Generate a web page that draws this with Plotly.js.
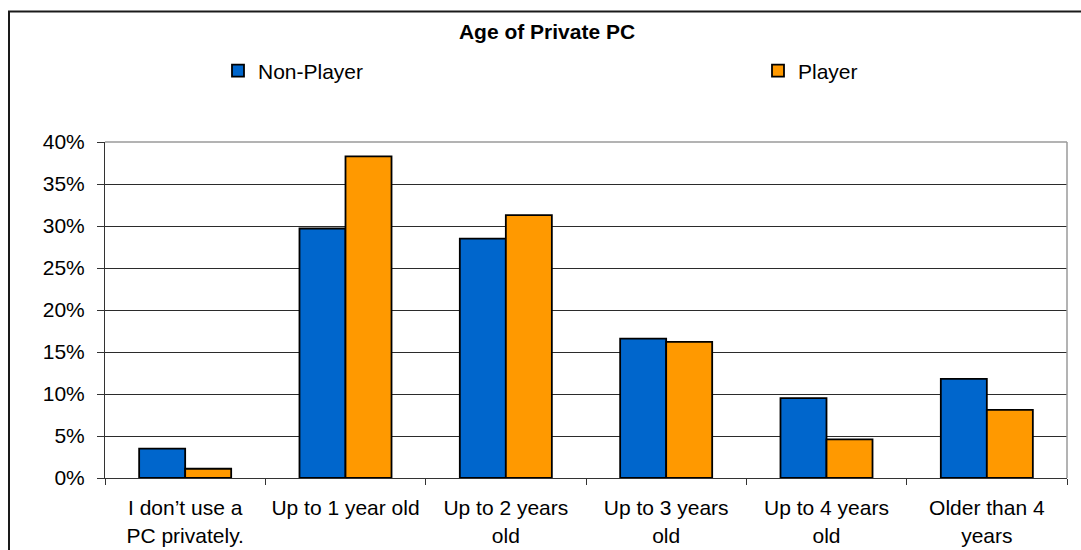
<!DOCTYPE html>
<html>
<head>
<meta charset="utf-8">
<script src="https://cdn.plot.ly/plotly-3.0.1.min.js"></script>
<style>
  html, body { margin: 0; padding: 0; background: #ffffff; }
  #chart { width: 1081px; height: 550px; }
</style>
</head>
<body>
<div id="chart"></div>
<script>
// Age categories of the private PC
const categories = [
  "I don’t use a<br>PC privately.",
  "Up to 1 year old",
  "Up to 2 years<br>old",
  "Up to 3 years<br>old",
  "Up to 4 years<br>old",
  "Older than 4<br>years"
];

// Share of respondents per group (fractions)
const nonPlayer = [0.035, 0.297, 0.285, 0.166, 0.095, 0.118];
const player    = [0.011, 0.383, 0.313, 0.162, 0.046, 0.081];

// Y-axis ticks
const yTickVals = [0, 0.05, 0.10, 0.15, 0.20, 0.25, 0.30, 0.35, 0.40];
const yTickText = ["0%", "5%", "10%", "15%", "20%", "25%", "30%", "35%", "40%"];

const FONT = "Arial, 'Liberation Sans', sans-serif";

const traces = [
  {
    type: "bar",
    name: "Non-Player",
    x: categories,
    y: nonPlayer,
    marker: { color: "#0066CC", line: { color: "#000000", width: 1.8 } },
    legend: "legend",
    hoverinfo: "skip"
  },
  {
    type: "bar",
    name: "Player",
    x: categories,
    y: player,
    marker: { color: "#FF9900", line: { color: "#000000", width: 1.8 } },
    legend: "legend2",
    hoverinfo: "skip"
  }
];

const legendBase = {
  orientation: "h",
  xref: "container",
  yref: "container",
  xanchor: "left",
  yanchor: "middle",
  y: 1 - 71 / 550,
  bgcolor: "rgba(0,0,0,0)",
  borderwidth: 0,
  font: { family: FONT, size: 21, color: "#000000" }
};

const layout = {
  width: 1081,
  height: 550,
  margin: { l: 105, r: 14, t: 142, b: 72, pad: 0 },
  paper_bgcolor: "#ffffff",
  plot_bgcolor: "#ffffff",
  font: { family: FONT, size: 21, color: "#000000" },
  title: {
    text: "<b>Age of Private PC</b>",
    font: { family: FONT, size: 21, color: "#000000" },
    xref: "container",
    yref: "container",
    x: 547 / 1081,
    xanchor: "center",
    y: 1 - 32 / 550,
    yanchor: "middle"
  },
  barmode: "group",
  bargap: 0.426,
  bargroupgap: 0,
  showlegend: true,
  legend: Object.assign({}, legendBase, { x: 218 / 1081 }),
  legend2: Object.assign({}, legendBase, { x: 758 / 1081 }),
  xaxis: {
    type: "category",
    showgrid: false,
    showline: true,
    linecolor: "#333333",
    linewidth: 1,
    ticks: "outside",
    tickson: "boundaries",
    ticklen: 6,
    tickcolor: "#333333",
    tickwidth: 1,
    tickfont: { family: FONT, size: 21, color: "#000000" },
    ticklabelstandoff: 11,
    zeroline: false
  },
  yaxis: {
    range: [0, 0.40],
    tickvals: yTickVals,
    ticktext: yTickText,
    showgrid: true,
    gridcolor: "#2b2b2b",
    gridwidth: 1,
    showline: true,
    linecolor: "#333333",
    linewidth: 1,
    ticks: "outside",
    ticklen: 7,
    tickcolor: "#333333",
    tickwidth: 1,
    tickfont: { family: FONT, size: 21, color: "#000000" },
    ticklabelstandoff: 8,
    zeroline: false
  },
  shapes: [
    // plot area border: top and right edges in grey
    { type: "line", xref: "paper", yref: "paper", x0: 0, x1: 1, y0: 1, y1: 1,
      line: { color: "#9a9a9a", width: 1.5 }, layer: "above" },
    { type: "line", xref: "paper", yref: "paper", x0: 1, x1: 1, y0: 0, y1: 1,
      line: { color: "#9a9a9a", width: 1.5 }, layer: "above" },
    // outer chart frame
    { type: "rect", xref: "paper", yref: "paper",
      x0: (9 - 105) / 962, x1: 1.2, y0: -0.5, y1: (477.7 - 12) / 335.4,
      line: { color: "#1a1a1a", width: 2 }, fillcolor: "rgba(0,0,0,0)", layer: "above" }
  ]
};

Plotly.newPlot("chart", traces, layout, { staticPlot: true, displayModeBar: false });
</script>
</body>
</html>
